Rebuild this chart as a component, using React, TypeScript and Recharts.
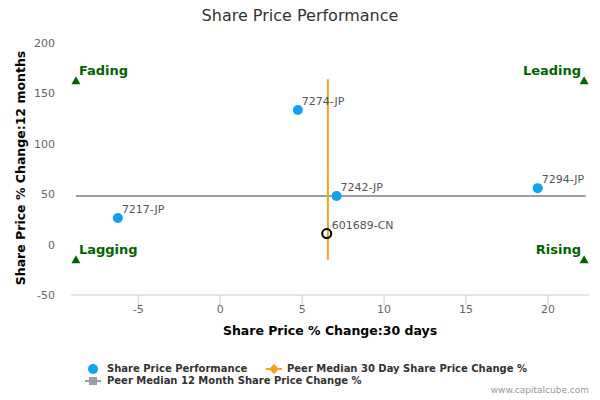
import { ScatterChart, Scatter, XAxis, YAxis, Label } from "recharts";

// peers
const companies = ["7217-JP", "7274-JP", "7242-JP", "7294-JP"];
const change30d = [-6.24, 4.74, 7.1, 19.37];
const change12m = [26.4, 133.5, 48.3, 56];

// the company itself
const subjectName = "601689-CN";
const subject30d = 6.5;
const subject12m = 10.9;

// peer medians
const median30d = 6.57;
const median30dSpan = [-15, 164];
const median12m = 48.3;
const median12mSpan = [-8.8, 22.3];

// quadrant markers
const quadrantNames = ["Fading", "Leading", "Lagging", "Rising"];
const quadrant30d = [-8.8, 22.2, -8.8, 22.2];
const quadrant12m = [163, 163, -14.5, -14.5];

const xTicks = [-5, 0, 5, 10, 15, 20];
const yTicks = [-50, 0, 50, 100, 150, 200];

const FONT = "'DejaVu Sans', Verdana, sans-serif";
const BLUE = "#0ea2ef";
const ORANGE = "#f7a01c";
const GRAY = "#9a9ea6";
const GREEN = "#006400";

const peers = companies.map((name, i) => ({ name, x: change30d[i], y: change12m[i] }));
const subject = [{ name: subjectName, x: subject30d, y: subject12m }];
const medianX = median30dSpan.map((y) => ({ x: median30d, y }));
const medianY = median12mSpan.map((x) => ({ x, y: median12m }));
const quadrants = quadrantNames.map((name, i) => ({ name, x: quadrant30d[i], y: quadrant12m[i], right: i % 2 === 1 }));

const pointLabel = (cx: number, cy: number, text: string) => (
    <text x={cx + 4} y={cy - 8} fontSize={11} fill="#555" fontFamily={FONT} dominantBaseline="middle">{text}</text>
);

const PeerDot = (p: any) => (
    <g>
        <circle cx={p.cx} cy={p.cy} r={5} fill={BLUE} />
        {pointLabel(p.cx, p.cy, p.payload.name)}
    </g>
);

const SubjectDot = (p: any) => (
    <g>
        <circle cx={p.cx} cy={p.cy} r={4.5} fill="none" stroke="#000" strokeWidth={2} />
        {pointLabel(p.cx + 1, p.cy, p.payload.name)}
    </g>
);

const QuadrantMark = (p: any) => {
    const { cx, cy, payload } = p;
    return (
        <g>
            <path d={`M${cx - 4.5},${cy + 4} L${cx + 4.5},${cy + 4} L${cx},${cy - 4} Z`} fill={GREEN} />
            <text x={payload.right ? cx - 3 : cx + 3} y={cy - 9} fontSize={13} fontWeight="bold" fill={GREEN}
                fontFamily={FONT} textAnchor={payload.right ? "end" : "start"} dominantBaseline="middle">
                {payload.name}
            </text>
        </g>
    );
};

const NoDot = () => <g />;

export default function App() {
    return (
        <div style={{ position: "absolute", left: 0, top: 0, width: 600, height: 400, background: "#fff" }}>
            <ScatterChart width={600} height={400} margin={{ top: 43, right: 11, bottom: 60, left: 0 }}>
                <XAxis type="number" dataKey="x" domain={[-9.1, 22.5]} ticks={xTicks} allowDataOverflow
                    stroke="#c0d0e0" tickSize={10} tickMargin={0} height={45}
                    tick={{ fill: "#666", fontSize: 11, fontFamily: FONT }}>
                    <Label value="Share Price % Change:30 days" position="insideBottom" offset={5}
                        style={{ fontSize: 12.5, fontWeight: "bold", fill: "#000", fontFamily: FONT }} />
                </XAxis>
                <YAxis type="number" dataKey="y" domain={[-50, 200]} ticks={yTicks} allowDataOverflow
                    axisLine={false} tickLine={false} tickSize={0} tickMargin={16} width={71}
                    tick={{ fill: "#666", fontSize: 11, fontFamily: FONT }}>
                    <Label content={() => (
                        <text x={21} y={168} transform="rotate(-90 21 168)" textAnchor="middle" dominantBaseline="middle"
                            fontSize={12.5} fontWeight="bold" fill="#000" fontFamily={FONT}>
                            Share Price % Change:12 months
                        </text>
                    )} />
                </YAxis>
                <Scatter data={medianY} line={{ stroke: GRAY, strokeWidth: 2 }} shape={NoDot} isAnimationActive={false} />
                <Scatter data={medianX} line={{ stroke: ORANGE, strokeWidth: 2 }} shape={NoDot} isAnimationActive={false} />
                <Scatter data={quadrants} shape={QuadrantMark} isAnimationActive={false} />
                <Scatter data={peers} shape={PeerDot} isAnimationActive={false} />
                <Scatter data={subject} shape={SubjectDot} isAnimationActive={false} />
            </ScatterChart>
            <svg width={600} height={400} style={{ position: "absolute", left: 0, top: 0, pointerEvents: "none" }}>
                <text x={300} y={16} textAnchor="middle" dominantBaseline="middle" fontSize={16} fill="#333" fontFamily={FONT}>
                    Share Price Performance
                </text>
                <g fontSize={10} fontWeight="bold" fill="#333" fontFamily={FONT}>
                    <circle cx={93} cy={369} r={5} fill={BLUE} />
                    <text x={107} y={369} dominantBaseline="middle">Share Price Performance</text>
                    <line x1={266} x2={282} y1={369} y2={369} stroke={ORANGE} strokeWidth={2} />
                    <path d="M274,364 L279,369 L274,374 L269,369 Z" fill={ORANGE} />
                    <text x={287} y={369} dominantBaseline="middle">Peer Median 30 Day Share Price Change %</text>
                    <line x1={85} x2={101} y1={381} y2={381} stroke={GRAY} strokeWidth={2} />
                    <rect x={89} y={377} width={8} height={8} fill={GRAY} />
                    <text x={107} y={381} dominantBaseline="middle">Peer Median 12 Month Share Price Change %</text>
                </g>
                <text x={589} y={390} textAnchor="end" dominantBaseline="middle" fontSize={9} fill="#999" fontFamily={FONT}>
                    www.capitalcube.com
                </text>
            </svg>
        </div>
    );
}
